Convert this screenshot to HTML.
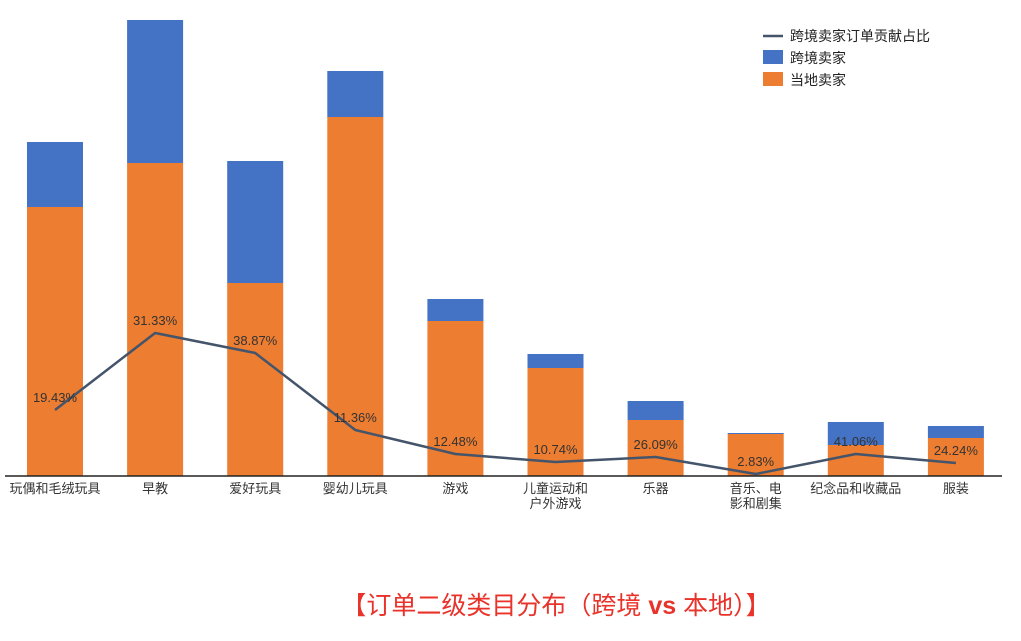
<!DOCTYPE html>
<html><head><meta charset="utf-8"><style>
body{margin:0;background:#fff;}
svg text{font-family:"Liberation Sans","Noto Sans CJK SC",sans-serif;}
</style></head><body>
<svg width="1021" height="636" viewBox="0 0 1021 636" xmlns="http://www.w3.org/2000/svg">
<g id="bars"></g>
<line x1="5" y1="476" x2="1002" y2="476" stroke="#222" stroke-width="1.5"/>
<g id="xlabels"></g>
<g id="line"></g>
<g>
<g><line x1="763" y1="36" x2="783" y2="36" stroke="#44546a" stroke-width="2.5"/><text x="790" y="41" font-size="14" fill="#222">跨境卖家订单贡献占比</text></g>
<g><rect x="763" y="50" width="20" height="14" fill="#4472c4"/><text x="790" y="63" font-size="14" fill="#222">跨境卖家</text></g>
<g><rect x="763" y="72" width="20" height="14" fill="#ed7d31"/><text x="790" y="85" font-size="14" fill="#222">当地卖家</text></g>
</g>
<text x="556" y="614" text-anchor="middle" font-size="25" fill="#e8322a">【订单二级类目分布（跨境 <tspan font-weight="bold">vs</tspan> 本地）】</text>
</svg>
<script>
const categories=[["玩偶和毛绒玩具"],["早教"],["爱好玩具"],["婴幼儿玩具"],["游戏"],["儿童运动和","户外游戏"],["乐器"],["音乐、电","影和剧集"],["纪念品和收藏品"],["服装"]];
const localValues=[269,313,193,359,155,108,56,42,31,38];
const crossValues=[65,143,122,46,22,14,19,1,23,12];
const lineValues=[66,143,123,46,22,14,19,2,22,13];
const lineLabels=["19.43%","31.33%","38.87%","11.36%","12.48%","10.74%","26.09%","2.83%","41.06%","24.24%"];
const NS="http://www.w3.org/2000/svg";
const x0=55,step=100.1,bw=56,base=476,scale=1;
const xs=i=>x0+i*step;
const ys=v=>base-v*scale;
function mk(tag,attrs,parent){const e=document.createElementNS(NS,tag);for(const k in attrs)e.setAttribute(k,attrs[k]);parent.appendChild(e);return e;}
const gb=document.getElementById('bars'),gx=document.getElementById('xlabels'),gl=document.getElementById('line');
categories.forEach((c,i)=>{
  const r1=mk('rect',{x:xs(i)-bw/2,y:ys(localValues[i]),width:bw,height:base-ys(localValues[i]),fill:'#ed7d31'},gb);
  
  
  const r2=mk('rect',{x:xs(i)-bw/2,y:ys(localValues[i]+crossValues[i]),width:bw,height:crossValues[i]*scale,fill:'#4472c4'},gb);
  
  
  c.forEach((s,j)=>{
    const t=mk('text',{x:xs(i),y:493+j*15,'text-anchor':'middle','font-size':13,fill:'#333'},gx);
    t.textContent=s;
    
    
  });
});
const pts=lineValues.map((v,i)=>xs(i)+','+ys(v)).join(' ');
const pl=mk('polyline',{points:pts,fill:'none',stroke:'#44546a','stroke-width':2.5,'stroke-linejoin':'round'},gl);


lineValues.forEach((v,i)=>{
  const t=mk('text',{x:xs(i),y:ys(v)-8,'text-anchor':'middle','font-size':13,fill:'#333'},gl);
  t.textContent=lineLabels[i];
  
  
});
</script>
</body></html>
